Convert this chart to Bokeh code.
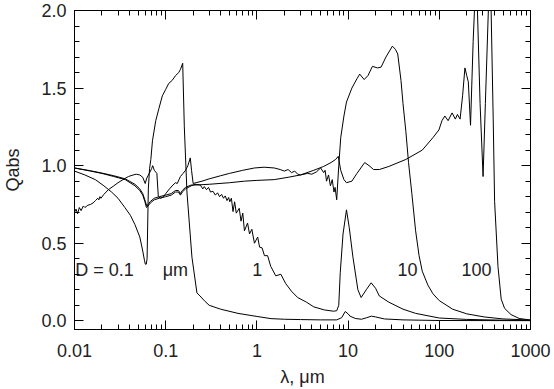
from bokeh.plotting import figure
from bokeh.models import (LogAxis, LinearAxis, LogTicker, SingleIntervalTicker,
                          PrintfTickFormatter, CustomJSTickFormatter, ColumnDataSource)
from bokeh.embed import file_html
from bokeh.resources import INLINE
from bokeh.core.properties import value

# ---------------- data ----------------
# D = 0.1 um
lam_01 = [0.010, 0.013, 0.0169, 0.021, 0.0255, 0.030, 0.0357, 0.041, 0.046, 0.052,
          0.056, 0.0585, 0.0598, 0.0612, 0.0625, 0.0645, 0.0665, 0.0687, 0.0716, 0.0778,
          0.0844, 0.0919, 0.0997, 0.108, 0.118, 0.128, 0.139, 0.145, 0.1536, 0.160,
          0.171, 0.194, 0.220, 0.238, 0.27, 0.30, 0.40, 0.62, 1.0, 1.43,
          2.0, 3.0, 5.0, 7.5, 8.5, 9.3, 10.0, 10.5, 12.0, 14.0,
          16.0, 18.0, 20.0, 25.0, 40.0, 100.0, 1000.0]
q_01 = [0.965, 0.94, 0.91, 0.87, 0.83, 0.79, 0.73, 0.68, 0.62, 0.54,
        0.45, 0.39, 0.365, 0.365, 0.40, 0.85, 0.98, 1.04, 1.16, 1.29,
        1.37, 1.45, 1.49, 1.53, 1.55, 1.58, 1.60, 1.62, 1.66, 1.25,
        0.83, 0.41, 0.18, 0.16, 0.125, 0.10, 0.075, 0.048, 0.028, 0.014,
        0.010, 0.008, 0.006, 0.006, 0.02, 0.06, 0.045, 0.03, 0.015, 0.01,
        0.02, 0.03, 0.025, 0.012, 0.006, 0.002, 0.001]

# D = 1 um
lam_1 = [0.010, 0.015, 0.020, 0.027, 0.036, 0.046, 0.052, 0.056, 0.059, 0.0615,
         0.064, 0.068, 0.075, 0.085, 0.100, 0.115, 0.128, 0.138, 0.145, 0.152,
         0.165, 0.19, 0.21, 0.24, 0.255, 0.265, 0.28, 0.295, 0.31, 0.33,
         0.35, 0.37, 0.39, 0.41, 0.43, 0.45, 0.47, 0.49, 0.504, 0.525,
         0.547, 0.57, 0.594, 0.64, 0.67, 0.70, 0.73, 0.79, 0.83, 0.88,
         0.94, 1.02, 1.07, 1.14, 1.21, 1.31, 1.42, 1.61, 1.83, 2.07,
         2.4, 2.8, 3.5, 4.2, 5.5, 6.9, 7.5, 7.9, 8.2, 8.8,
         9.6, 10.3, 11.3, 12.8, 13.9, 15.8, 17.9, 20.0, 22.0, 28.0,
         40.0, 55.0, 100.0, 200.0, 500.0, 1000.0]
q_1 = [0.985, 0.965, 0.95, 0.93, 0.91, 0.87, 0.84, 0.81, 0.77, 0.73,
       0.74, 0.76, 0.78, 0.79, 0.80, 0.81, 0.83, 0.83, 0.81, 0.83,
       0.85, 0.87, 0.88, 0.875, 0.85, 0.865, 0.845, 0.86, 0.83, 0.835,
       0.81, 0.825, 0.80, 0.815, 0.79, 0.805, 0.775, 0.795, 0.767, 0.79,
       0.704, 0.767, 0.694, 0.725, 0.642, 0.694, 0.58, 0.63, 0.56, 0.59,
       0.50, 0.54, 0.475, 0.47, 0.42, 0.42, 0.35, 0.29, 0.30, 0.24,
       0.19, 0.15, 0.12, 0.09, 0.07, 0.062, 0.065, 0.10, 0.31, 0.56,
       0.715, 0.60, 0.41, 0.20, 0.15, 0.20, 0.245, 0.21, 0.16, 0.12,
       0.075, 0.048, 0.018, 0.009, 0.004, 0.002]

# D = 10 um
lam_10 = [0.010, 0.015, 0.020, 0.027, 0.036, 0.046, 0.052, 0.056, 0.059, 0.062,
          0.065, 0.068, 0.075, 0.085, 0.100, 0.115, 0.128, 0.138, 0.145, 0.152,
          0.165, 0.19, 0.21, 0.30, 0.50, 0.73, 1.0, 1.55, 2.2, 3.0,
          3.6, 4.0, 4.5, 5.0, 5.4, 5.6, 5.8, 6.1, 6.4, 6.7,
          7.0, 7.2, 7.5, 7.9, 8.3, 9.0, 9.6, 11.0, 12.5, 13.4,
          15.0, 16.5, 18.5, 21.0, 23.0, 26.0, 30.6, 33.0, 35.0, 38.0,
          40.0, 43.0, 46.0, 50.0, 55.0, 60.0, 65.0, 75.0, 85.0, 100.0,
          140.0, 200.0, 310.0, 500.0, 1000.0]
q_10 = [0.985, 0.967, 0.952, 0.935, 0.915, 0.88, 0.85, 0.82, 0.78, 0.74,
        0.755, 0.77, 0.79, 0.80, 0.81, 0.82, 0.84, 0.84, 0.82, 0.84,
        0.86, 0.875, 0.875, 0.88, 0.89, 0.90, 0.905, 0.91, 0.925, 0.94,
        0.95, 0.945, 0.96, 0.985, 0.955, 0.97, 0.90, 0.94, 0.87, 0.91,
        0.83, 0.86, 0.78, 1.0, 1.18, 1.32, 1.41, 1.50, 1.56, 1.59,
        1.555, 1.58, 1.64, 1.63, 1.635, 1.70, 1.77, 1.75, 1.72, 1.55,
        1.40, 1.22, 1.02, 0.82, 0.58, 0.42, 0.32, 0.23, 0.175, 0.13,
        0.075, 0.045, 0.025, 0.012, 0.005]

# D = 100 um
lam_100 = [0.010, 0.0104, 0.0108, 0.0113, 0.0118, 0.0125, 0.013, 0.014, 0.015, 0.016,
           0.017, 0.018, 0.0185, 0.019, 0.0195, 0.021, 0.0235, 0.027, 0.030, 0.034,
           0.039, 0.044, 0.0476, 0.052, 0.056, 0.0596, 0.062, 0.066, 0.070, 0.072,
           0.075, 0.080, 0.083, 0.088, 0.095, 0.100, 0.110, 0.120, 0.128, 0.134,
           0.140, 0.145, 0.155, 0.165, 0.175, 0.186, 0.192, 0.200, 0.25, 0.30,
           0.40, 0.50, 0.70, 0.94, 1.2, 1.55, 1.8, 2.0, 2.2, 2.4,
           2.6, 2.8, 3.0, 4.2, 5.4, 6.5, 7.3, 7.8, 8.3, 9.0,
           9.6, 11.0, 12.5, 15.2, 17.0, 19.0, 22.0, 28.0, 43.0, 65.0,
           85.0, 99.0, 107.0, 115.0, 125.0, 138.0, 150.0, 158.0, 169.0, 180.0,
           191.0, 200.0, 208.0, 220.0, 235.0, 247.0, 255.0, 262.0, 280.0, 302.0,
           320.0, 345.0, 357.0, 370.0, 390.0, 404.0, 440.0, 477.0, 520.0, 612.0,
           750.0, 1000.0]
q_100 = [0.70, 0.72, 0.69, 0.73, 0.71, 0.74, 0.73, 0.745, 0.75, 0.76,
         0.775, 0.79, 0.78, 0.80, 0.79, 0.815, 0.845, 0.87, 0.89, 0.91,
         0.93, 0.94, 0.945, 0.94, 0.925, 0.885, 0.92, 0.95, 0.98, 1.00,
         0.97, 0.95, 0.80, 0.79, 0.80, 0.82, 0.85, 0.875, 0.89, 0.885,
         0.91, 0.93, 0.95, 0.97, 1.00, 1.05, 0.97, 0.885, 0.90, 0.915,
         0.935, 0.95, 0.97, 0.985, 0.99, 0.985, 0.975, 0.965, 0.975, 0.955,
         0.965, 0.945, 0.94, 0.97, 0.995, 1.02, 1.04, 1.06, 0.97, 0.91,
         0.89, 0.90, 0.95, 1.02, 1.00, 0.975, 0.975, 0.995, 1.04, 1.10,
         1.18, 1.23, 1.29, 1.32, 1.29, 1.34, 1.30, 1.33, 1.30, 1.45,
         1.63, 1.58, 1.54, 1.26, 1.80, 2.10, 2.40, 2.00, 1.40, 0.93,
         1.40, 2.00, 2.40, 2.00, 1.30, 0.77, 0.35, 0.14, 0.08, 0.04,
         0.015, 0.005]

x_ticks_text = ["0.01", "0.1", "1", "10", "100", "1000"]
curve_labels = ["D = 0.1", "\u03bcm", "1", "10", "100"]

FONT = "Liberation Sans"
TXT = "#222222"

p = figure(width=554, height=389, x_axis_type="log",
           x_range=(0.01, 1000), y_range=(-0.056, 2.0),
           output_backend="svg", toolbar_location=None,
           min_border_left=68, min_border_right=24,
           min_border_top=10, min_border_bottom=57)
p.background_fill_color = "white"
p.border_fill_color = "white"
p.outline_line_color = "black"
p.outline_line_width = 1
p.grid.visible = False

def style_axis(ax, labels=True):
    ax.axis_line_color = "black"
    ax.major_tick_line_color = "black"
    ax.minor_tick_line_color = "black"
    ax.major_tick_in = 9
    ax.major_tick_out = 0
    ax.minor_tick_in = 5
    ax.minor_tick_out = 0
    if labels:
        ax.major_label_text_font = FONT
        ax.major_label_text_font_size = "18px"
        ax.major_label_text_color = TXT
        ax.axis_label_text_font = FONT
        ax.axis_label_text_font_size = "18px"
        ax.axis_label_text_font_style = "normal"
        ax.axis_label_text_color = TXT
    else:
        ax.formatter = CustomJSTickFormatter(code="return ''")
        ax.major_label_text_font_size = "1px"
        ax.major_label_standoff = 0

tick_fmt = CustomJSTickFormatter(
    args=dict(names=x_ticks_text),
    code="const i = Math.round(Math.log10(tick)) + 2; return names[i] ?? String(tick);")

xa = p.xaxis[0]
xa.ticker = LogTicker(num_minor_ticks=10)
xa.formatter = tick_fmt
style_axis(xa)
xa.axis_label = "\u03bb, \u03bcm"
xa.major_label_standoff = 14
xa.axis_label_standoff = 7

ya = p.yaxis[0]
ya.ticker = SingleIntervalTicker(interval=0.5, num_minor_ticks=5)
ya.formatter = PrintfTickFormatter(format="%.1f")
style_axis(ya)
ya.axis_label = "Qabs"
ya.major_label_standoff = 8
ya.axis_label_standoff = 15

top = LogAxis(ticker=LogTicker(num_minor_ticks=10))
style_axis(top, labels=False)
p.add_layout(top, "above")

right = LinearAxis(ticker=SingleIntervalTicker(interval=0.5, num_minor_ticks=5))
style_axis(right, labels=False)
p.add_layout(right, "right")

for lam, q in [(lam_01, q_01), (lam_1, q_1), (lam_10, q_10), (lam_100, q_100)]:
    p.line(lam, q, line_color="black", line_width=1)

# curve labels (left aligned, then centred)
lab_left = ColumnDataSource(dict(x=[0.0102, 0.0926], y=[0.33, 0.33],
                                 t=[curve_labels[0], curve_labels[1]]))
p.text(x="x", y="y", text="t", source=lab_left, text_align="left",
       text_baseline="middle", text_font=value(FONT), text_font_size="18px",
       text_color=TXT)
lab_c = ColumnDataSource(dict(x=[1.01, 44.9, 256.0], y=[0.33, 0.33, 0.33],
                              t=curve_labels[2:]))
p.text(x="x", y="y", text="t", source=lab_c, text_align="center",
       text_baseline="middle", text_font=value(FONT), text_font_size="18px",
       text_color=TXT)

open("out.html", "w").write(file_html(p, INLINE))
